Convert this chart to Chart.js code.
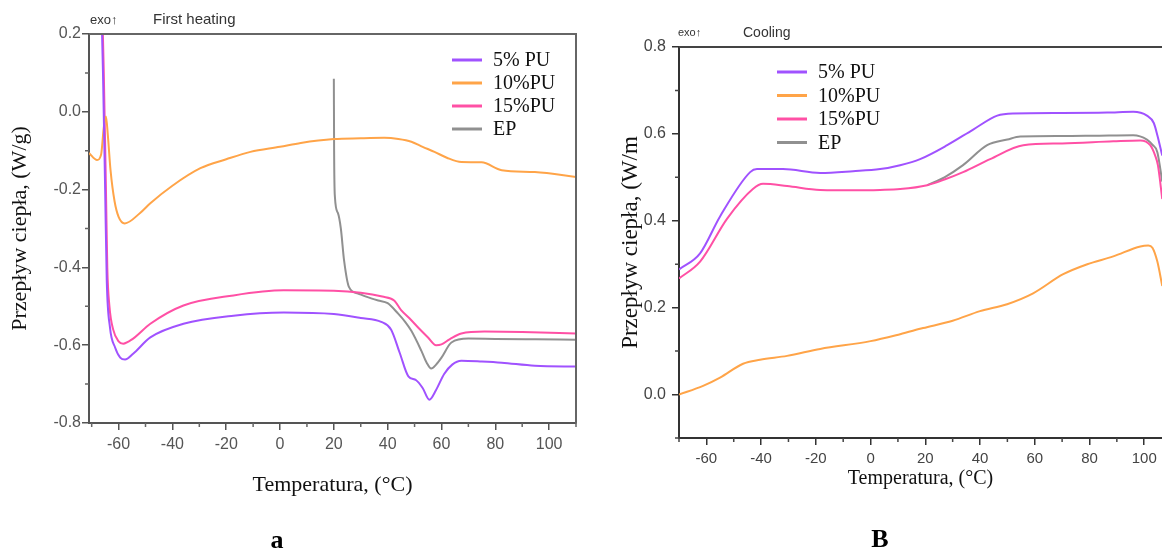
<!DOCTYPE html>
<html>
<head>
<meta charset="utf-8">
<script src="https://cdn.jsdelivr.net/npm/chart.js@4.4.0/dist/chart.umd.min.js"></script>
<style>
  body { margin: 0; background: #fff; width: 1162px; height: 551px; overflow: hidden; position: relative; }
  canvas { position: absolute; top: 0; }
  #heat { left: 0; }
  #cool { left: 600px; }
</style>
</head>
<body>
<canvas id="heat" width="600" height="551"></canvas>
<canvas id="cool" width="562" height="551"></canvas>
<script>
// --- series ---
const seriesLabels = ["5% PU", "10%PU", "15%PU", "EP"];
const seriesColors = ["#a052ff", "#ffa448", "#ff50a5", "#909090"];

// panel a: first heating (temperature, heat flow W/g)
const heatT5 = [-66.5, -65.8, -65.0, -64.4, -63.2, -61.3, -59.4, -57.6, -54.6, -48.2, -35.9, -17.3, 1.4, 20, 30, 37.6, 41.3, 44.5, 47.7, 50.6, 53, 55.5, 58, 61, 64, 67.4, 75, 82.4, 94.7, 110.7];
const heatV5 = [0.3, 0.1, -0.2, -0.434, -0.555, -0.606, -0.632, -0.637, -0.622, -0.58, -0.545, -0.524, -0.516, -0.52, -0.53, -0.54, -0.56, -0.62, -0.68, -0.69, -0.71, -0.74, -0.715, -0.674, -0.65, -0.64, -0.642, -0.645, -0.653, -0.655];
const heatT10 = [-71, -68, -66.5, -65.5, -64.7, -64, -63, -61.5, -60, -57.7, -52, -48.2, -40, -29.6, -20, -11, 0, 7.7, 20, 30, 38.7, 44, 48.8, 53, 57.4, 62, 67.4, 74.9, 82.4, 94.7, 110.7];
const heatV10 = [-0.106, -0.124, -0.11, -0.04, -0.012, -0.06, -0.15, -0.23, -0.27, -0.287, -0.26, -0.235, -0.19, -0.145, -0.122, -0.103, -0.09, -0.08, -0.07, -0.068, -0.067, -0.07, -0.077, -0.09, -0.103, -0.118, -0.129, -0.13, -0.15, -0.155, -0.168];
const heatT15 = [-66.2, -65.5, -64.7, -64.2, -63.4, -62, -60, -58.3, -54.6, -48.2, -35.9, -17.3, 1.4, 20, 30, 38, 42.4, 45, 48, 51.4, 55, 58, 60, 63, 67.4, 76, 90, 110.7];
const heatV15 = [0.3, 0.1, -0.2, -0.4, -0.5, -0.56, -0.59, -0.596, -0.583, -0.545, -0.498, -0.472, -0.459, -0.46, -0.465, -0.475, -0.485, -0.51, -0.53, -0.555, -0.58, -0.6, -0.598, -0.585, -0.57, -0.565, -0.566, -0.57];
const heatTEP = [20, 20.1, 20.4, 21.5, 22.6, 23.8, 25.6, 29, 32, 36.5, 40, 43.9, 46.5, 48.8, 52.5, 54.5, 56.2, 58, 60, 63.7, 70, 80, 95, 110.7];
const heatVEP = [0.085, -0.1, -0.219, -0.26, -0.3, -0.382, -0.45, -0.467, -0.475, -0.485, -0.492, -0.519, -0.54, -0.563, -0.614, -0.645, -0.66, -0.65, -0.632, -0.593, -0.583, -0.584, -0.585, -0.586];

// panel B: cooling (temperature, heat flow)
const coolT5 = [-70, -62.3, -55, -44, -41.5, -32, -18.4, -6.4, 3.5, 10.8, 18.1, 28, 37.5, 46.3, 52, 70, 86.5, 96, 101, 103.5, 104.8, 106.6];
const coolV5 = [0.288, 0.325, 0.41, 0.512, 0.519, 0.519, 0.51, 0.514, 0.519, 0.528, 0.542, 0.574, 0.61, 0.642, 0.647, 0.648, 0.649, 0.651, 0.642, 0.625, 0.597, 0.55];
const coolT10 = [-70, -61.2, -55, -46.6, -40.4, -30.5, -18.4, 0, 10.8, 19.2, 30, 40, 49.9, 59.4, 70.4, 79.2, 88.7, 98.6, 101.5, 103, 104.8, 106.6];
const coolV10 = [0, 0.02, 0.039, 0.071, 0.08, 0.089, 0.105, 0.123, 0.139, 0.153, 0.17, 0.192, 0.208, 0.233, 0.277, 0.3, 0.318, 0.341, 0.343, 0.338, 0.306, 0.25];
const coolT15 = [-70, -62.3, -52.4, -43, -39.3, -30.5, -18.4, -5, 3.5, 10.8, 20.7, 27, 33.8, 43.7, 55.8, 70, 88.7, 98.6, 102.2, 104, 105, 106.6];
const coolV15 = [0.267, 0.306, 0.405, 0.473, 0.485, 0.48, 0.471, 0.47, 0.471, 0.473, 0.482, 0.495, 0.512, 0.542, 0.574, 0.578, 0.583, 0.585, 0.574, 0.55, 0.528, 0.45];
const coolTEP = [20.7, 27, 33.8, 42.6, 50, 54.7, 70, 82.8, 96, 101, 103, 104.8, 106.6];
const coolVEP = [0.482, 0.5, 0.528, 0.574, 0.587, 0.594, 0.595, 0.596, 0.597, 0.587, 0.575, 0.558, 0.49];

const pts = (xs, ys) => xs.map((x, i) => ({ x: x, y: ys[i] }));

function makeDatasets(series) {
  return series.map((s, i) => ({
    label: seriesLabels[i],
    data: pts(s[0], s[1]),
    borderColor: seriesColors[i],
    borderWidth: 2,
    pointRadius: 0,
    fill: false,
    cubicInterpolationMode: "monotone"
  }));
}

const isMajor = (v, step) => Math.round(v / step) % 2 === 0;

// frame, minor ticks, header, legend and panel letter
const decor = {
  id: "decor",
  afterDraw(chart, args, o) {
    const { ctx, chartArea: a, scales } = chart;
    ctx.save();
    ctx.strokeStyle = o.frameColor;
    ctx.lineWidth = 2;
    ctx.beginPath();
    ctx.moveTo(a.left, a.top);
    ctx.lineTo(a.right, a.top);
    if (o.rightFrame) ctx.lineTo(a.right, a.bottom);
    ctx.stroke();

    // minor ticks, shorter than the major ones
    ctx.strokeStyle = o.frameColor;
    ctx.lineWidth = 1.5;
    ctx.beginPath();
    scales.x.ticks.forEach(t => {
      if (isMajor(t.value, 10)) return;
      const px = scales.x.getPixelForValue(t.value);
      ctx.moveTo(px, a.bottom);
      ctx.lineTo(px, a.bottom + 4);
    });
    scales.y.ticks.forEach(t => {
      if (isMajor(t.value, 0.1)) return;
      const py = scales.y.getPixelForValue(t.value);
      ctx.moveTo(a.left, py);
      ctx.lineTo(a.left - 4, py);
    });
    ctx.stroke();

    ctx.fillStyle = "#333";
    ctx.textBaseline = "middle";
    ctx.font = o.exoFont;
    ctx.fillText("exo\u2191", o.exoX, o.headY);
    ctx.font = o.headFont;
    ctx.fillText(o.heading, o.headX, o.headY);

    ctx.font = '20px "Liberation Serif"';
    chart.data.datasets.forEach((d, i) => {
      const y = o.legY + i * o.legGap;
      ctx.strokeStyle = d.borderColor;
      ctx.lineWidth = 3;
      ctx.beginPath();
      ctx.moveTo(o.legX, y);
      ctx.lineTo(o.legX + 30, y);
      ctx.stroke();
      ctx.fillStyle = "#111";
      ctx.fillText(d.label, o.legX + 41, y + 1);
    });

    ctx.font = 'bold 26px "Liberation Serif"';
    ctx.textAlign = "center";
    ctx.fillStyle = "#000";
    ctx.fillText(o.letter, o.letterX, o.letterY);
    ctx.restore();
  }
};

function evenLabel(v, step) {
  const k = Math.round(v / step);
  return k % 2 === 0 ? (k * step === 0 ? 0 : k * step).toFixed(step < 1 ? 1 : 0) : "";
}

function axes(cfg) {
  return {
    x: {
      type: "linear", min: cfg.xMin, max: cfg.xMax,
      afterFit: s => { s.height = cfg.xHeight; },
      border: { color: cfg.axisColor, width: 2 },
      grid: {
        drawOnChartArea: false, tickLength: 7, color: cfg.axisColor, lineWidth: 1.5,
        tickColor: c => (c.tick && isMajor(c.tick.value, 10) ? cfg.axisColor : "rgba(0,0,0,0)")
      },
      ticks: {
        stepSize: 10, includeBounds: false, maxRotation: 0, autoSkip: false,
        padding: cfg.xPad, color: cfg.tickColor, font: { size: cfg.xTickSize },
        callback: v => evenLabel(v, 10)
      },
      title: {
        display: true, text: "Temperatura, (\u00B0C)", color: "#111",
        font: { family: '"Liberation Serif"', size: cfg.xTitleSize },
        padding: { top: 4, bottom: cfg.xTitlePad }
      }
    },
    y: {
      min: cfg.yMin, max: cfg.yMax,
      afterFit: s => { s.width = cfg.yWidth; },
      border: { color: cfg.axisColor, width: 2 },
      grid: {
        drawOnChartArea: false, tickLength: 7, color: cfg.axisColor, lineWidth: 1.5,
        tickColor: c => (c.tick && isMajor(c.tick.value, 0.1) ? cfg.axisColor : "rgba(0,0,0,0)")
      },
      ticks: {
        stepSize: 0.1, padding: cfg.yPad, color: cfg.tickColor, font: { size: 16 },
        callback: v => evenLabel(v, 0.1)
      },
      title: {
        display: true, text: cfg.yTitle, color: "#111",
        font: { family: '"Liberation Serif"', size: cfg.yTitleSize },
        padding: { top: cfg.yTitlePad, bottom: 4 }
      }
    }
  };
}

Chart.defaults.font.family = '"Liberation Sans", Arial, sans-serif';

new Chart(document.getElementById("heat"), {
  type: "line",
  data: { datasets: makeDatasets([[heatT5, heatV5], [heatT10, heatV10], [heatT15, heatV15], [heatTEP, heatVEP]]) },
  options: {
    responsive: false, animation: false, devicePixelRatio: 1,
    layout: { padding: { left: 0, top: 34, right: 24, bottom: 0 } },
    scales: axes({
      xMin: -71, xMax: 110, yMin: -0.8, yMax: 0.2, xHeight: 128, yWidth: 89,
      axisColor: "#555", tickColor: "#555", xTickSize: 16, xPad: 5, yPad: 1,
      xTitleSize: 22, xTitlePad: 53, yTitle: "Przepływ ciepła, (W/g)", yTitleSize: 22, yTitlePad: 7
    }),
    plugins: {
      legend: { display: false },
      tooltip: { enabled: false },
      decor: {
        frameColor: "#666", rightFrame: true,
        exoFont: '13px "Liberation Sans"', exoX: 90, headFont: '15px "Liberation Sans"', heading: "First heating", headX: 153, headY: 20,
        legX: 452, legY: 60, legGap: 23,
        letter: "a", letterX: 277, letterY: 541
      }
    }
  },
  plugins: [decor]
});

new Chart(document.getElementById("cool"), {
  type: "line",
  data: { datasets: makeDatasets([[coolT5, coolV5], [coolT10, coolV10], [coolT15, coolV15], [coolTEP, coolVEP]]) },
  options: {
    responsive: false, animation: false, devicePixelRatio: 1,
    layout: { padding: { left: 0, top: 47, right: 0, bottom: 0 } },
    scales: axes({
      xMin: -70, xMax: 106.5, yMin: -0.1, yMax: 0.8, xHeight: 113, yWidth: 79,
      axisColor: "#333", tickColor: "#444", xTickSize: 15, xPad: 5, yPad: 6,
      xTitleSize: 20, xTitlePad: 60, yTitle: "Przepływ ciepła, (W/m", yTitleSize: 23, yTitlePad: 17
    }),
    plugins: {
      legend: { display: false },
      tooltip: { enabled: false },
      decor: {
        frameColor: "#444", rightFrame: false,
        exoFont: '11px "Liberation Sans"', exoX: 78, headFont: '14px "Liberation Sans"', heading: "Cooling", headX: 143, headY: 33,
        legX: 177, legY: 72, legGap: 23.5,
        letter: "B", letterX: 280, letterY: 540
      }
    }
  },
  plugins: [decor]
});
</script>
</body>
</html>
